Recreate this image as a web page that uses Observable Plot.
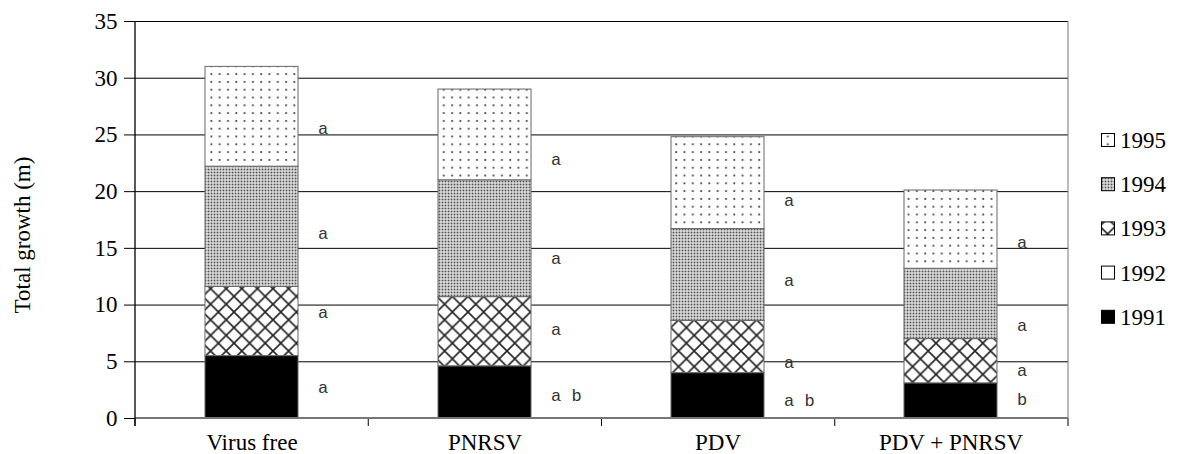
<!DOCTYPE html>
<html>
<head>
<meta charset="utf-8">
<script src="https://cdn.jsdelivr.net/npm/d3@7"></script>
<script src="https://cdn.jsdelivr.net/npm/@observablehq/plot@0.6"></script>
<style>
  html, body { margin: 0; padding: 0; background: #fff; }
  #chart svg { display: block; }
</style>
</head>
<body>
<div id="chart"></div>
<script>
// ---- data ----
const treatments = ["Virus free", "PNRSV", "PDV", "PDV + PNRSV"];
const years = ["1991", "1992", "1993", "1994", "1995"];
const growth1991 = [5.5, 4.6, 4.0, 3.1];
const growth1992 = [0, 0, 0, 0];
const growth1993 = [6.1, 6.1, 4.6, 3.9];
const growth1994 = [10.6, 10.3, 8.1, 6.2];
const growth1995 = [8.8, 8.0, 8.1, 6.9];
const yTicks = [0, 5, 10, 15, 20, 25, 30, 35];
// significance letters and the level where each is written
const letters1991 = ["a", "a b", "a b", "b"];
const letterY1991 = [2.7, 2.0, 1.6, 1.7];
const letters1993 = ["a", "a", "a", "a"];
const letterY1993 = [9.3, 7.8, 4.9, 4.2];
const letters1994 = ["a", "a", "a", "a"];
const letterY1994 = [16.3, 14.1, 12.2, 8.2];
const letters1995 = ["a", "a", "a", "a"];
const letterY1995 = [25.6, 22.8, 19.2, 15.5];
const legendYears = ["1995", "1994", "1993", "1992", "1991"];

const series = [growth1991, growth1992, growth1993, growth1994, growth1995];
const rows = years.flatMap((yr, j) => treatments.map((t, i) => ({treatment: t, year: yr, value: series[j][i]})));
const letterRows = [
  [letters1991, letterY1991], [letters1993, letterY1993],
  [letters1994, letterY1994], [letters1995, letterY1995]
].flatMap(([L, Y]) => treatments.map((t, i) => ({treatment: t, label: L[i], y: Y[i]})));

const fills = {"1991": "#000", "1992": "#fff", "1993": "url(#p1993)", "1994": "url(#p1994)", "1995": "url(#p1995)"};

const serif = "'Liberation Serif', 'Times New Roman', serif";

// pattern definitions
const defsMark = () => {
  const g = d3.create("svg:g");
  const defs = g.append("defs");
  const p95 = defs.append("pattern").attr("id", "p1995").attr("patternUnits", "userSpaceOnUse")
    .attr("width", 8.3).attr("height", 7.8);
  p95.append("rect").attr("width", 8.3).attr("height", 7.8).attr("fill", "#fff");
  p95.append("rect").attr("x", 3).attr("y", 3).attr("width", 1.8).attr("height", 1.8).attr("fill", "#444");
  const p94 = defs.append("pattern").attr("id", "p1994").attr("patternUnits", "userSpaceOnUse")
    .attr("width", 3).attr("height", 3);
  p94.append("rect").attr("width", 3).attr("height", 3).attr("fill", "#fff");
  p94.append("rect").attr("x", 0.5).attr("y", 0.5).attr("width", 2).attr("height", 2).attr("fill", "#555");
  const p93 = defs.append("pattern").attr("id", "p1993").attr("patternUnits", "userSpaceOnUse")
    .attr("width", 15.6).attr("height", 15.6);
  p93.append("rect").attr("width", 15.6).attr("height", 15.6).attr("fill", "#fff");
  p93.append("path").attr("d", "M0,0L15.6,15.6M15.6,0L0,15.6M-1,14.6L1,16.6M14.6,-1L16.6,1")
    .attr("stroke", "#222").attr("stroke-width", 1.6).attr("fill", "none");
  return g.node();
};

// axis lines, category separators, y label and legend
const decorMark = (index, scales, values, dims) => {
  const {width, height, marginLeft, marginRight, marginTop, marginBottom} = dims;
  const x0 = marginLeft, x1 = width - marginRight, y0 = marginTop, yb = height - marginBottom;
  const g = d3.create("svg:g").attr("text-anchor", "start");
  const step = (x1 - x0) / treatments.length;
  for (let i = 0; i <= treatments.length; i++) {
    g.append("line").attr("x1", x0 + i * step).attr("x2", x0 + i * step)
      .attr("y1", yb).attr("y2", yb + 8).attr("stroke", "#000").attr("stroke-width", 1);
  }
  g.append("line").attr("x1", x1).attr("x2", x1).attr("y1", y0).attr("y2", yb)
    .attr("stroke", "#777").attr("stroke-width", 1);
  g.append("line").attr("x1", x0).attr("x2", x1).attr("y1", yb).attr("y2", yb)
    .attr("stroke", "#777").attr("stroke-width", 2);
  g.append("line").attr("x1", x0).attr("x2", x0).attr("y1", y0).attr("y2", yb + 8)
    .attr("stroke", "#000").attr("stroke-width", 1.3);
  g.append("text").attr("transform", `translate(22,235) rotate(-90)`)
    .attr("text-anchor", "middle").attr("dy", "0.35em")
    .attr("font-family", serif).attr("font-size", 23).attr("fill", "#000")
    .text("Total growth (m)");
  const lg = g.append("g");
  legendYears.forEach((yr, k) => {
    const cy = 140 + k * 44.2;
    lg.append("rect").attr("x", 1101.5).attr("y", cy - 6.5).attr("width", 13).attr("height", 13)
      .attr("fill", fills[yr]).attr("stroke", "#000").attr("stroke-width", 1);
    lg.append("text").attr("x", 1120).attr("y", cy).attr("dy", "0.35em")
      .attr("text-anchor", "start")
      .attr("font-family", serif).attr("font-size", 23).attr("fill", "#000").text(yr);
  });
  return g.node();
};

const chart = Plot.plot({
  width: 1181,
  height: 454,
  marginLeft: 135,
  marginRight: 113,
  marginTop: 21,
  marginBottom: 36,
  style: {fontFamily: serif, fontSize: "23px", color: "#000", background: "#fff"},
  x: {domain: treatments, paddingInner: 0.6, paddingOuter: 0.3, label: null},
  y: {domain: [0, 35], label: null},
  color: {type: "identity"},
  marks: [
    defsMark,
    Plot.ruleY(yTicks.slice(1), {stroke: "#000", strokeWidth: 1}),
    Plot.barY(rows.filter(d => d.value > 0), {
      x: "treatment", y: "value", z: "year", order: years,
      fill: d => fills[d.year], stroke: "#666", strokeWidth: 1
    }),
    Plot.text(letterRows, {
      x: "treatment", y: "y", text: "label", textAnchor: "start", dx: 66,
      fontFamily: "'Liberation Mono', 'Courier New', monospace", fontSize: 17, fill: "#333"
    }),
    Plot.axisY({ticks: yTicks, tickSize: 11, tickPadding: 7, label: null, fontSize: 23}),
    Plot.axisX({tickSize: 0, tickPadding: 15, label: null, fontSize: 23}),
    decorMark
  ]
});
document.getElementById("chart").appendChild(chart);
</script>
</body>
</html>
